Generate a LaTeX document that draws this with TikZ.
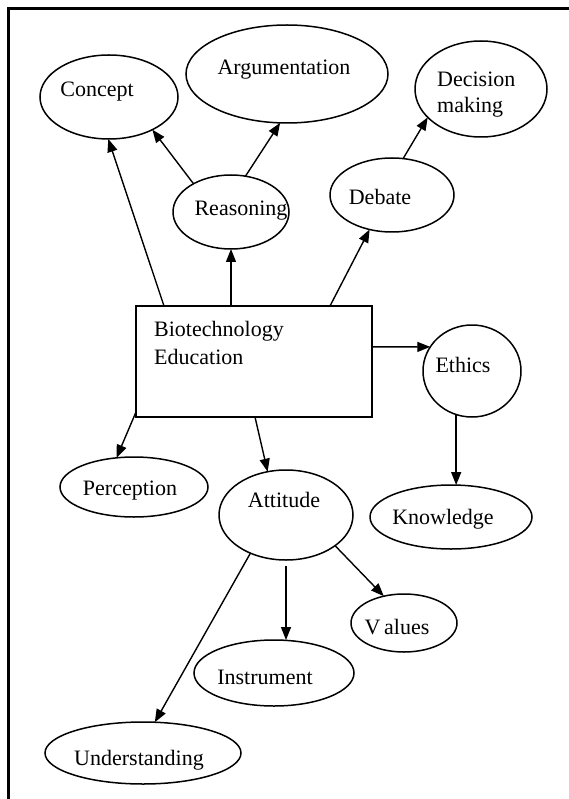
\documentclass[tikz,border=0pt]{standalone}
\usepackage{fontspec}
\setmainfont{Liberation Serif}
\usetikzlibrary{shapes.geometric,arrows.meta}
\begin{document}
\begin{tikzpicture}[x=1pt,y=-1pt,
  el/.style={ellipse,draw,line width=1.5pt,inner sep=0pt,outer sep=0pt},
  txt/.style={inner sep=0pt,font=\fontsize{22}{27}\selectfont},
  arr/.style={line width=1.4pt,-{Triangle[length=13pt,width=10pt]}},
  frame/.style={line width=3pt}]
\useasboundingbox (0,0) rectangle (569,799);
\fill[white] (0,0) rectangle (569,799);
\draw[frame] (8.5,799) -- (8.5,8.5) -- (569,8.5);

% nodes
\node[el,minimum width=138pt,minimum height=84pt] (concept) at (109,97) {};
\node[txt] at (97,92) {Concept};
\node[el,minimum width=202pt,minimum height=98pt] (arg) at (287,74) {};
\node[txt] at (284,70) {Argumentation};
\node[el,minimum width=132pt,minimum height=96pt] (dec) at (481,89) {};
\node[txt,anchor=west,align=left,font=\fontsize{22}{26}\selectfont] at (437,95) {Decision\\making};
\node[el,minimum width=116pt,minimum height=74pt] (reas) at (231,212) {};
\node[txt] at (241,211) {Reasoning};
\node[el,minimum width=124pt,minimum height=74pt] (deb) at (392,195) {};
\node[txt] at (380,197) {Debate};
\node[draw,line width=2pt,minimum width=236pt,minimum height=111pt,inner sep=0pt,outer sep=0pt] (box) at (254,361.5) {};
\node[txt,anchor=west,align=left,font=\fontsize{22}{28}\selectfont] at (154,343) {Biotechnology\\Education};
\node[el,minimum width=98pt,minimum height=92pt] (eth) at (472,371) {};
\node[txt] at (463,365) {Ethics};
\node[el,minimum width=148pt,minimum height=60pt] (perc) at (134,487) {};
\node[txt] at (130,491) {Perception};
\node[el,minimum width=134pt,minimum height=90pt] (att) at (286,515) {};
\node[txt] at (284,500) {Attitude};
\node[el,minimum width=162pt,minimum height=64pt] (kno) at (451,517) {};
\node[txt] at (443,519) {Knowledge};
\node[el,minimum width=106pt,minimum height=58pt] (val) at (404,623) {};
\node[txt] at (397,627) {V\,alues};
\node[el,minimum width=160pt,minimum height=66pt] (ins) at (274,673) {};
\node[txt] at (265,677) {Instrument};
\node[el,minimum width=196pt,minimum height=62pt] (und) at (143,753) {};
\node[txt] at (139,760) {Understanding};

% connectors
\draw[arr] ([xshift=28pt]box.north west) -- (concept.269);
\draw[arr] ([xshift=95pt]box.north west) -- ([xshift=95pt]box.north west |- reas.south);
\draw[arr] ([xshift=194pt]box.north west) -- (deb.237);
\draw[arr] (reas.143) -- (concept.323);
\draw[arr] (reas.68) -- (arg.262);
\draw[arr] (deb.73) -- (dec.208);
\draw[arr] ([yshift=14.6pt]box.east) -- (eth.150);
\draw[arr] (eth.250) -- (eth.250 |- kno.north);
\draw[arr] ([yshift=-50.5pt]box.west) -- (perc.121);
\draw[arr] ([xshift=119pt]box.south west) -- (att.113);
\draw[arr] (att.227) -- (und.69);
\draw[arr] ([yshift=-6pt]att.south) -- (att.south |- ins.north);
\draw[arr] (att.328) -- (val.127);
\end{tikzpicture}
\end{document}
